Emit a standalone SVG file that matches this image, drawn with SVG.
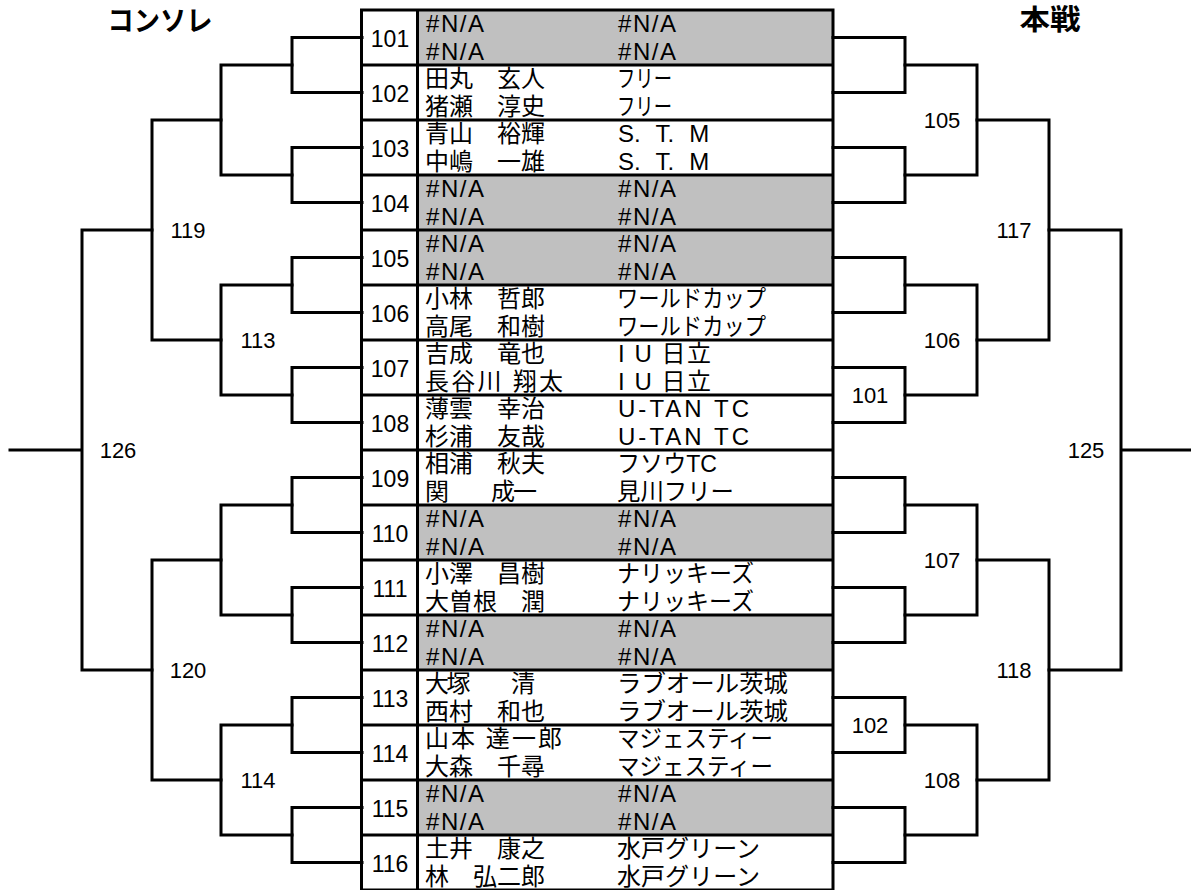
<svg xmlns="http://www.w3.org/2000/svg" width="1191" height="890" viewBox="0 0 1191 890">
<style>
.ln{stroke:#000;stroke-width:3;fill:none;stroke-linecap:square;stroke-linejoin:miter}
.g{fill:#C0C0C0}
.t{font-family:"Liberation Sans","Noto Sans CJK JP",sans-serif;font-size:24px;fill:#000}
.na{font-size:24px}
.ws{word-spacing:8.5px}
.no{font-size:23px;text-anchor:middle}
.lb{font-family:"Liberation Sans","Noto Sans CJK JP",sans-serif;font-size:22px;fill:#000;text-anchor:middle}
.ttl{font-family:"Noto Sans CJK JP",sans-serif;font-size:28px;font-weight:bold;fill:#000;text-anchor:middle}
</style>
<rect width="1191" height="890" fill="#fff"/>
<text class="ttl" x="160" y="31" textLength="105" lengthAdjust="spacingAndGlyphs">コンソレ</text>
<text class="ttl" x="1050" y="30" textLength="61" lengthAdjust="spacingAndGlyphs">本戦</text>

<g id="table">
<g id="m101"><rect class="g" x="418" y="10" width="415" height="55"/><text class="t no" x="390" y="47">101</text><text class="t na" x="426" y="32" textLength="58" lengthAdjust="spacing">#N/A</text><text class="t na" x="618" y="32" textLength="58" lengthAdjust="spacing">#N/A</text><text class="t na" x="426" y="60" textLength="58" lengthAdjust="spacing">#N/A</text><text class="t na" x="618" y="60" textLength="58" lengthAdjust="spacing">#N/A</text></g>
<g id="m102"><text class="t no" x="390" y="102">102</text><text class="t" x="425" y="87">田丸　玄人</text><text class="t" x="617" y="87" textLength="55" lengthAdjust="spacingAndGlyphs">フリー</text><text class="t" x="425" y="115">猪瀬　淳史</text><text class="t" x="617" y="115" textLength="55" lengthAdjust="spacingAndGlyphs">フリー</text></g>
<g id="m103"><text class="t no" x="390" y="157">103</text><text class="t" x="425" y="142">青山　裕輝</text><text class="t na ws" x="618" y="142">S. T. M</text><text class="t" x="425" y="170">中嶋　一雄</text><text class="t na ws" x="618" y="170">S. T. M</text></g>
<g id="m104"><rect class="g" x="418" y="175" width="415" height="55"/><text class="t no" x="390" y="212">104</text><text class="t na" x="426" y="197" textLength="58" lengthAdjust="spacing">#N/A</text><text class="t na" x="618" y="197" textLength="58" lengthAdjust="spacing">#N/A</text><text class="t na" x="426" y="225" textLength="58" lengthAdjust="spacing">#N/A</text><text class="t na" x="618" y="225" textLength="58" lengthAdjust="spacing">#N/A</text></g>
<g id="m105"><rect class="g" x="418" y="230" width="415" height="55"/><text class="t no" x="390" y="267">105</text><text class="t na" x="426" y="252" textLength="58" lengthAdjust="spacing">#N/A</text><text class="t na" x="618" y="252" textLength="58" lengthAdjust="spacing">#N/A</text><text class="t na" x="426" y="280" textLength="58" lengthAdjust="spacing">#N/A</text><text class="t na" x="618" y="280" textLength="58" lengthAdjust="spacing">#N/A</text></g>
<g id="m106"><text class="t no" x="390" y="322">106</text><text class="t" x="425" y="307">小林　哲郎</text><text class="t" x="617" y="307" textLength="149" lengthAdjust="spacingAndGlyphs">ワールドカップ</text><text class="t" x="425" y="335">高尾　和樹</text><text class="t" x="617" y="335" textLength="149" lengthAdjust="spacingAndGlyphs">ワールドカップ</text></g>
<g id="m107"><text class="t no" x="390" y="377">107</text><text class="t" x="425" y="362">吉成　竜也</text><text class="t" x="618" y="362" textLength="93" lengthAdjust="spacing">I U 日立</text><text class="t" x="425" y="390" textLength="138" lengthAdjust="spacing">長谷川 翔太</text><text class="t" x="618" y="390" textLength="93" lengthAdjust="spacing">I U 日立</text></g>
<g id="m108"><text class="t no" x="390" y="432">108</text><text class="t" x="425" y="417">薄雲　幸治</text><text class="t na" x="618" y="417" textLength="131" lengthAdjust="spacing">U-TAN TC</text><text class="t" x="425" y="445">杉浦　友哉</text><text class="t na" x="618" y="445" textLength="131" lengthAdjust="spacing">U-TAN TC</text></g>
<g id="m109"><text class="t no" x="390" y="487">109</text><text class="t" x="425" y="472">相浦　秋夫</text><text class="t" x="617" y="472" textLength="100" lengthAdjust="spacingAndGlyphs">フソウTC</text><text class="t" x="425" y="500" textLength="112" lengthAdjust="spacing">関　　成一</text><text class="t" x="617" y="500" textLength="117" lengthAdjust="spacingAndGlyphs">見川フリー</text></g>
<g id="m110"><rect class="g" x="418" y="505" width="415" height="55"/><text class="t no" x="390" y="542">110</text><text class="t na" x="426" y="527" textLength="58" lengthAdjust="spacing">#N/A</text><text class="t na" x="618" y="527" textLength="58" lengthAdjust="spacing">#N/A</text><text class="t na" x="426" y="555" textLength="58" lengthAdjust="spacing">#N/A</text><text class="t na" x="618" y="555" textLength="58" lengthAdjust="spacing">#N/A</text></g>
<g id="m111"><text class="t no" x="390" y="597">111</text><text class="t" x="425" y="582">小澤　昌樹</text><text class="t" x="617" y="582" textLength="137" lengthAdjust="spacingAndGlyphs">ナリッキーズ</text><text class="t" x="425" y="610">大曽根　潤</text><text class="t" x="617" y="610" textLength="137" lengthAdjust="spacingAndGlyphs">ナリッキーズ</text></g>
<g id="m112"><rect class="g" x="418" y="615" width="415" height="55"/><text class="t no" x="390" y="652">112</text><text class="t na" x="426" y="637" textLength="58" lengthAdjust="spacing">#N/A</text><text class="t na" x="618" y="637" textLength="58" lengthAdjust="spacing">#N/A</text><text class="t na" x="426" y="665" textLength="58" lengthAdjust="spacing">#N/A</text><text class="t na" x="618" y="665" textLength="58" lengthAdjust="spacing">#N/A</text></g>
<g id="m113"><text class="t no" x="390" y="707">113</text><text class="t" x="425" y="692" textLength="110" lengthAdjust="spacing">大塚　　清</text><text class="t" x="617" y="692" textLength="171" lengthAdjust="spacingAndGlyphs">ラブオール茨城</text><text class="t" x="425" y="720">西村　和也</text><text class="t" x="617" y="720" textLength="171" lengthAdjust="spacingAndGlyphs">ラブオール茨城</text></g>
<g id="m114"><text class="t no" x="390" y="762">114</text><text class="t" x="425" y="747" textLength="137" lengthAdjust="spacing">山本 達一郎</text><text class="t" x="617" y="747" textLength="156" lengthAdjust="spacingAndGlyphs">マジェスティー</text><text class="t" x="425" y="775">大森　千尋</text><text class="t" x="617" y="775" textLength="156" lengthAdjust="spacingAndGlyphs">マジェスティー</text></g>
<g id="m115"><rect class="g" x="418" y="780" width="415" height="55"/><text class="t no" x="390" y="817">115</text><text class="t na" x="426" y="802" textLength="58" lengthAdjust="spacing">#N/A</text><text class="t na" x="618" y="802" textLength="58" lengthAdjust="spacing">#N/A</text><text class="t na" x="426" y="830" textLength="58" lengthAdjust="spacing">#N/A</text><text class="t na" x="618" y="830" textLength="58" lengthAdjust="spacing">#N/A</text></g>
<g id="m116"><text class="t no" x="390" y="872">116</text><text class="t" x="425" y="857">土井　康之</text><text class="t" x="617" y="857" textLength="143" lengthAdjust="spacingAndGlyphs">水戸グリーン</text><text class="t" x="425" y="885">林　弘二郎</text><text class="t" x="617" y="885" textLength="143" lengthAdjust="spacingAndGlyphs">水戸グリーン</text></g>
<path class="ln" d="M361.5 10V890M417.5 10V890M833 10V890M361.5 10H833M361.5 65H833M361.5 120H833M361.5 175H833M361.5 230H833M361.5 285H833M361.5 340H833M361.5 395H833M361.5 450H833M361.5 505H833M361.5 560H833M361.5 615H833M361.5 670H833M361.5 725H833M361.5 780H833M361.5 835H833M361.5 890H833"/>
</g>

<g id="connectors">
<path class="ln" d="M362 37.5H292V92.5H362M362 147.5H292V202.5H362M362 257.5H292V312.5H362M362 367.5H292V422.5H362M362 477.5H292V532.5H362M362 587.5H292V642.5H362M362 697.5H292V752.5H362M362 807.5H292V862.5H362"/>
<path class="ln" d="M292 65H221V175H292M292 285H221V395H292M292 505H221V615H292M292 725H221V835H292"/>
<path class="ln" d="M221 120H152V340H221M221 560H152V780H221"/>
<path class="ln" d="M152 230H82V670H152M82 450H10"/>
<path class="ln" d="M833 37.5H905V92.5H833M833 147.5H905V202.5H833M833 257.5H905V312.5H833M833 367.5H905V422.5H833M833 477.5H905V532.5H833M833 587.5H905V642.5H833M833 697.5H905V752.5H833M833 807.5H905V862.5H833"/>
<path class="ln" d="M905 65H977V175H905M905 285H977V395H905M905 505H977V615H905M905 725H977V835H905"/>
<path class="ln" d="M977 120H1049V340H977M977 560H1049V780H977"/>
<path class="ln" d="M1049 230H1121V670H1049M1121 450H1191"/>
</g>

<g id="labels">
<text class="lb" x="188" y="238">119</text>
<text class="lb" x="258" y="348">113</text>
<text class="lb" x="118" y="458">126</text>
<text class="lb" x="188" y="678">120</text>
<text class="lb" x="258" y="788">114</text>
<text class="lb" x="942" y="128">105</text>
<text class="lb" x="1014" y="238">117</text>
<text class="lb" x="942" y="348">106</text>
<text class="lb" x="870" y="403">101</text>
<text class="lb" x="1086" y="458">125</text>
<text class="lb" x="942" y="568">107</text>
<text class="lb" x="1014" y="678">118</text>
<text class="lb" x="870" y="733">102</text>
<text class="lb" x="942" y="788">108</text>
</g>
</svg>
